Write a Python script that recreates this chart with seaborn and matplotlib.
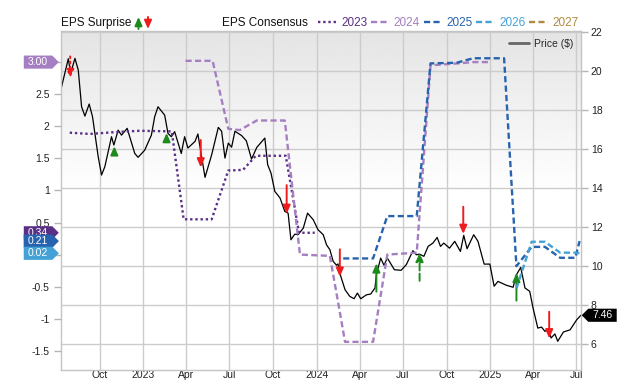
import matplotlib
matplotlib.use('Agg')
import matplotlib.pyplot as plt
import matplotlib.dates as mdates
from matplotlib.lines import Line2D
from matplotlib.path import Path
import numpy as np
import pandas as pd
import seaborn as sns

# Price series (right axis)
price_dates = ['2022-07-11', '2022-07-27', '2022-08-01', '2022-08-10', '2022-08-17', '2022-08-24', '2022-08-31',
               '2022-09-09', '2022-09-16', '2022-09-28', '2022-10-05', '2022-10-12', '2022-10-26', '2022-10-31',
               '2022-11-09', '2022-11-16', '2022-11-28', '2022-12-14', '2022-12-21',
               '2023-01-04', '2023-01-18', '2023-01-25', '2023-02-01', '2023-02-15', '2023-02-22', '2023-03-01',
               '2023-03-08', '2023-03-22', '2023-03-29', '2023-04-05', '2023-04-20', '2023-04-26', '2023-05-11',
               '2023-05-25', '2023-06-08', '2023-06-15', '2023-06-22', '2023-06-29', '2023-07-06', '2023-07-13',
               '2023-07-27', '2023-08-06', '2023-08-17', '2023-08-28', '2023-09-14', '2023-09-20', '2023-09-27',
               '2023-10-05', '2023-10-16', '2023-10-26', '2023-11-02', '2023-11-08', '2023-11-16', '2023-11-23',
               '2023-12-04', '2023-12-13', '2023-12-25',
               '2024-01-04', '2024-01-15', '2024-01-22', '2024-01-29', '2024-02-05', '2024-02-12', '2024-02-15',
               '2024-02-21', '2024-03-01', '2024-03-11', '2024-03-20', '2024-03-27', '2024-04-03', '2024-04-15',
               '2024-04-24', '2024-05-03', '2024-05-06', '2024-05-15', '2024-05-22', '2024-05-29', '2024-06-13',
               '2024-06-27', '2024-07-08', '2024-07-22', '2024-07-29', '2024-08-05', '2024-08-14', '2024-08-23',
               '2024-09-02', '2024-09-11', '2024-09-18', '2024-09-25', '2024-10-07', '2024-10-18', '2024-10-30',
               '2024-11-06', '2024-11-13', '2024-11-27', '2024-12-06', '2024-12-19', '2024-12-31',
               '2025-01-09', '2025-01-17', '2025-02-04', '2025-02-18', '2025-02-25', '2025-03-06', '2025-03-15',
               '2025-03-25', '2025-04-01', '2025-04-11', '2025-04-19', '2025-04-26', '2025-05-03', '2025-05-09',
               '2025-05-17', '2025-05-23', '2025-06-04', '2025-06-18', '2025-07-02', '2025-07-11']
price_values = [19.02, 20.65, 19.90, 20.67, 20.07, 18.18, 17.70, 18.32, 17.67, 15.61, 14.67, 15.10, 16.64, 16.21,
                16.98, 16.72, 17.07, 15.78, 15.58,
                15.95, 16.72, 17.67, 18.18, 17.75, 16.81, 16.64, 16.90, 15.78, 16.64, 16.06, 16.40, 16.78, 14.55,
                15.71, 17.12, 16.92, 15.54, 16.31, 16.10, 16.92, 16.70, 16.43, 15.49, 16.09, 16.57, 15.20, 14.77,
                13.83, 13.49, 12.80, 12.71, 11.34, 11.63, 11.60, 11.94, 12.71, 12.37,
                11.86, 11.60, 11.08, 10.83, 10.23, 10.03, 10.10, 9.46, 8.77, 8.43, 8.31, 8.60, 8.31, 8.51,
                8.55, 8.86, 9.54, 10.40, 10.03, 10.40, 9.80, 9.77, 10.06, 10.78, 10.57, 10.60, 10.49, 11.00,
                11.17, 11.46, 11.00, 11.17, 10.91, 11.26, 10.74, 11.57, 10.88, 11.60, 11.26, 10.09, 10.09,
                8.95, 9.20, 9.00, 8.90, 9.54, 9.92, 8.86, 8.69, 7.83, 6.80, 6.85, 6.63, 6.75, 6.29,
                6.50, 6.12, 6.60, 6.71, 7.23, 7.46]

# EPS consensus series (left axis)
eps2023_dates = ['2022-07-30', '2022-09-10', '2022-11-05', '2022-12-25', '2023-03-02', '2023-03-27', '2023-05-25',
                 '2023-06-29', '2023-07-30', '2023-08-26', '2023-10-28', '2023-11-25', '2023-12-28']
eps2023_values = [1.90, 1.88, 1.91, 1.93, 1.92, 0.55, 0.55, 1.31, 1.32, 1.54, 1.54, 0.34, 0.34]

eps2024_dates = ['2023-03-31', '2023-05-27', '2023-06-29', '2023-07-23', '2023-08-28', '2023-10-26', '2023-11-27',
                 '2024-01-29', '2024-03-01', '2024-04-29', '2024-05-29', '2024-07-30', '2024-08-28', '2024-10-25',
                 '2024-11-26', '2024-12-31']
eps2024_values = [3.02, 3.02, 1.96, 1.94, 2.09, 2.09, 0.00, -0.02, -1.36, -1.36, 0.00, 0.03, 2.95, 2.98, 3.00, 3.00]

eps2025_dates = ['2024-02-26', '2024-04-29', '2024-05-29', '2024-07-30', '2024-08-28', '2024-10-22', '2024-11-26',
                 '2025-01-30', '2025-02-25', '2025-03-29', '2025-04-26', '2025-05-28', '2025-06-29', '2025-07-08']
eps2025_values = [-0.06, -0.06, 0.60, 0.60, 2.98, 2.99, 3.06, 3.06, -0.18, 0.12, 0.12, -0.05, -0.05, 0.21]

eps2026_dates = ['2025-02-25', '2025-03-29', '2025-04-26', '2025-05-28', '2025-06-29', '2025-07-08']
eps2026_values = [-0.53, 0.20, 0.20, 0.03, 0.03, 0.02]

years = ['2023', '2024', '2025', '2026', '2027']
year_colors = ['#5a2f86', '#a57fc1', '#2763ae', '#44a1d6', '#b08a3e']
year_dashes = [(0, (1, 1.2)), (0, (2.6, 1.4)), (0, (2.6, 1.4)), (0, (2.6, 1.4)), (0, (2.6, 1.4))]

# EPS surprises, drawn at the price line (arrow from -> to, in price units)
surprise_dates = ['2022-07-31', '2022-11-01', '2023-02-19', '2023-05-02', '2023-10-30', '2024-02-19',
                  '2024-05-06', '2024-08-05', '2024-11-05', '2025-02-25', '2025-05-05']
surprise_from = [20.77, 15.75, 16.48, 16.47, 14.15, 10.85, 8.67, 9.23, 13.04, 8.21, 7.64]
surprise_to = [19.65, 16.15, 16.83, 15.06, 12.67, 9.44, 10.13, 10.67, 11.64, 9.64, 6.27]
surprise_styles = [':', '-', '-', '-', '-', '-', '-', '--', '-', '-', '-']

tick_dates = ['2022-10-01', '2023-01-01', '2023-04-01', '2023-07-01', '2023-10-01', '2024-01-01',
              '2024-04-01', '2024-07-01', '2024-10-01', '2025-01-01', '2025-04-01', '2025-07-01']
tick_labels = ['Oct', '2023', 'Apr', 'Jul', 'Oct', '2024', 'Apr', 'Jul', 'Oct', '2025', 'Apr', 'Jul']
price_ticks = [6, 8, 10, 12, 14, 16, 18, 20, 22]
eps_ticks = [-1.5, -1, -0.5, 0, 0.5, 1, 1.5, 2, 2.5, 3]
eps_tick_labels = ['-1.5', '-1', '-0.5', '0', '0.5', '1', '1.5', '2', '2.5', '3']

# last-value tags on the left axis
badge_values = [3.00, 0.34, 0.21, 0.02]
badge_labels = ['3.00', '0.34', '0.21', '0.02']
badge_colors = ['#a57fc1', '#5a2f86', '#2763ae', '#44a1d6']
last_price = 7.46

GREEN = '#1e8a1e'
RED = '#ee1c1c'
ARROW = '-|>,head_length=0.5,head_width=0.22'

sns.set_theme(style='white')
plt.rcParams['font.family'] = ['Liberation Sans', 'DejaVu Sans']


def tag_right(x0, y0, width, height, mutation_size):
    px, py = 0.4 * mutation_size, 0.15 * mutation_size
    x0, y0 = x0 - px, y0 - py
    x1, y1 = x0 + width + 2 * px, y0 + height + 2 * py
    tip = (y1 - y0) / 2
    return Path([(x0, y0), (x1, y0), (x1 + tip, (y0 + y1) / 2), (x1, y1), (x0, y1), (x0, y0)], closed=True)


def tag_left(x0, y0, width, height, mutation_size):
    px, py = 0.4 * mutation_size, 0.15 * mutation_size
    x0, y0 = x0 - px, y0 - py
    x1, y1 = x0 + width + 2 * px, y0 + height + 2 * py
    tip = (y1 - y0) / 2
    return Path([(x0, y0), (x1, y0), (x1, y1), (x0, y1), (x0 - tip, (y0 + y1) / 2), (x0, y0)], closed=True)


fig = plt.figure(figsize=(6.4, 3.82), dpi=100)
W, H = 640, 382
pos = [60.7 / W, 1 - 369.7 / H, (581 - 60.7) / W, (369.7 - 31.3) / H]

# grey-to-white background
bg = fig.add_axes(pos, zorder=-1)
f = np.linspace(1, 0, 200)[:, None]
shade = np.clip(0.895 + 0.105 * (1 - f) / 0.48, 0, 1)
bg.imshow(shade, aspect='auto', cmap='gray', vmin=0, vmax=1, extent=[0, 1, 0, 1])
bg.axis('off')

ax = fig.add_axes(pos)
ax.set_facecolor('none')
ax2 = ax.twinx()

sns.lineplot(x=pd.to_datetime(price_dates), y=price_values, ax=ax, color='black', lw=0.9)

eps_dates = [eps2023_dates, eps2024_dates, eps2025_dates, eps2026_dates]
eps_values = [eps2023_values, eps2024_values, eps2025_values, eps2026_values]
for d, v, c, ls in zip(eps_dates, eps_values, year_colors, year_dashes):
    sns.lineplot(x=pd.to_datetime(d), y=v, ax=ax2, color=c, lw=1.7, linestyle=ls)

for d, a, b, ls in zip(surprise_dates, surprise_from, surprise_to, surprise_styles):
    x = mdates.date2num(pd.Timestamp(d))
    col = GREEN if b > a else RED
    ax.annotate('', xy=(x, b), xytext=(x, a),
                arrowprops=dict(arrowstyle=ARROW, color=col, lw=1.4, linestyle=ls,
                                shrinkA=0, shrinkB=0, mutation_scale=10))

ax.set_xlim(pd.Timestamp('2022-07-11'), pd.Timestamp('2025-07-11'))
ax.set_ylim(4.66, 22.06)
ax2.set_ylim(-1.794, 3.48)

ax.set_xticks(pd.to_datetime(tick_dates))
ax.set_xticklabels(tick_labels)
ax.yaxis.tick_right()
ax.set_yticks(price_ticks)
ax.set_yticklabels([str(t) for t in price_ticks])
ax2.yaxis.tick_left()
ax2.set_yticks(eps_ticks)
ax2.set_yticklabels(eps_tick_labels)
ax.set_xlabel('')
ax.set_ylabel('')
ax2.set_ylabel('')

ax.grid(True, color='#cccccc', lw=1)
ax.set_axisbelow(True)
ax2.grid(False)
ax.tick_params(axis='x', length=0, pad=0.5, labelsize=7.5, labelcolor='#222222')
ax.tick_params(axis='y', length=5, width=1, color='#b5b5b5', pad=2, labelsize=7.5, labelcolor='#222222')
ax2.tick_params(axis='y', length=5, width=1, color='#b5b5b5', pad=3, labelsize=7.5, labelcolor='#222222')
for s in ax.spines.values():
    s.set_color('#c4c4c4')
    s.set_linewidth(1)
for s in ax2.spines.values():
    s.set_visible(False)

# value tags
ytr = ax2.get_yaxis_transform()
for v, lab, c in zip(badge_values, badge_labels, badge_colors):
    ax2.text(-0.0436, v, lab, transform=ytr, ha='center', va='center', fontsize=7.5, color='white',
             bbox=dict(boxstyle=tag_right, fc=c, ec='none'), zorder=10, clip_on=False)
ax2.text(1.0413, last_price, f'{last_price:.2f}', transform=ax.get_yaxis_transform(), ha='center', va='center',
         fontsize=7.5, color='white', bbox=dict(boxstyle=tag_left, fc='black', ec='none'), zorder=10, clip_on=False)

# price legend
ax.legend([Line2D([], [], color='#666666', lw=2)], ['Price ($)'], loc='upper right', frameon=False,
          fontsize=7.5, handlelength=1.9, handletextpad=0.5, borderaxespad=0.3)

# top legend
ty = 1 - 23 / H
fig.text(61 / W, ty, 'EPS Surprise', fontsize=8.5, va='center', color='#111111')
ax.annotate('', xy=(138.5 / W, 1 - 17 / H), xycoords='figure fraction', xytext=(138.5 / W, 1 - 29 / H),
            arrowprops=dict(arrowstyle=ARROW, color=GREEN, lw=1.4, shrinkA=0, shrinkB=0, mutation_scale=10))
ax.annotate('', xy=(148 / W, 1 - 29 / H), xycoords='figure fraction', xytext=(148 / W, 1 - 17 / H),
            arrowprops=dict(arrowstyle=ARROW, color=RED, lw=1.4, shrinkA=0, shrinkB=0, mutation_scale=10))
fig.text(222.5 / W, ty, 'EPS Consensus', fontsize=8.5, va='center', color='#111111')
handles = [Line2D([], [], color=c, lw=1.7, linestyle=ls) for c, ls in zip(year_colors, year_dashes)]
fig.legend(handles, years, loc='center left', bbox_to_anchor=(318 / W, ty), ncol=5, frameon=False,
           fontsize=8.5, handlelength=1.6, handletextpad=0.35, columnspacing=0.3, borderpad=0,
           borderaxespad=0, labelcolor=year_colors)

fig.savefig('out.png', dpi=100)
